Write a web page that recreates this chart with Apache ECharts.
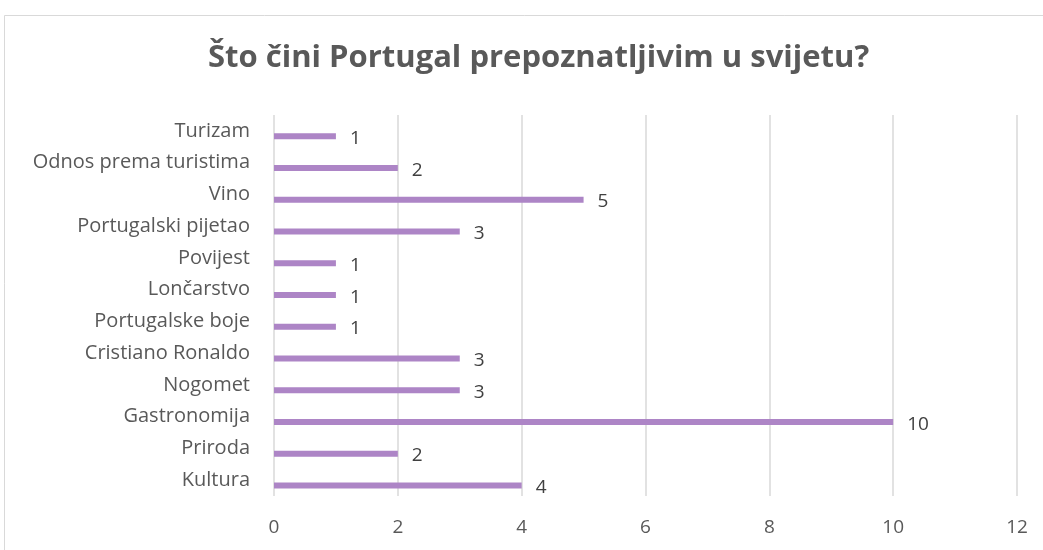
<!DOCTYPE html>
<html>
<head>
<meta charset="utf-8">
<script src="https://cdn.jsdelivr.net/npm/echarts@6/dist/echarts.min.js"></script>
<style>
html,body{margin:0;padding:0;background:#fff;}
#c{width:1043px;height:550px;}
</style>
</head>
<body>
<div id="c"></div>
<script>
const titleText = 'Što čini Portugal prepoznatljivim u svijetu?';
const categories = ['Kultura','Priroda','Gastronomija','Nogomet','Cristiano Ronaldo','Portugalske boje','Lončarstvo','Povijest','Portugalski pijetao','Vino','Odnos prema turistima','Turizam'];
const values = [4,2,10,3,3,1,1,1,3,5,2,1];
const spacer = categories.map(() => null);
const xTicks = [0,2,4,6,8,10,12];

const FONT = '"Open Sans", sans-serif';
const chart = echarts.init(document.getElementById('c'), null, {renderer:'canvas'});
chart.setOption({
  animation:false,
  backgroundColor:'#fff',
  graphic:[{type:'rect',shape:{x:4.5,y:15.5,width:1200,height:700},style:{fill:'none',stroke:'#d9d9d9',lineWidth:1},silent:true,z:-1}],
  title:{text:titleText,left:203,top:38,textStyle:{fontFamily:FONT,fontWeight:'bold',fontSize:31,color:'#595959'}},
  grid:{left:274,right:26,top:115,bottom:54,containLabel:false},
  xAxis:{type:'value',min:xTicks[0],max:xTicks[xTicks.length-1],interval:2,
    axisLine:{show:false},axisTick:{show:false},
    axisLabel:{margin:22,color:'#595959',fontFamily:FONT,fontSize:19},
    splitLine:{show:true,lineStyle:{color:'#d9d9d9',width:1.5}}},
  yAxis:{type:'category',data:categories,
    axisLine:{show:false},axisTick:{show:false},
    axisLabel:{margin:24,color:'#595959',fontFamily:FONT,fontSize:20}},
  series:[
    {type:'bar',data:spacer,barWidth:6,barGap:'83%',silent:true,itemStyle:{color:'rgba(0,0,0,0)'}},
    {type:'bar',data:values,barWidth:6,barGap:'83%',itemStyle:{color:'#AD85C6'},
      label:{show:true,position:'right',distance:14,offset:[0,2],color:'#404040',fontFamily:FONT,fontSize:19}}
  ]
});
</script>
</body>
</html>
